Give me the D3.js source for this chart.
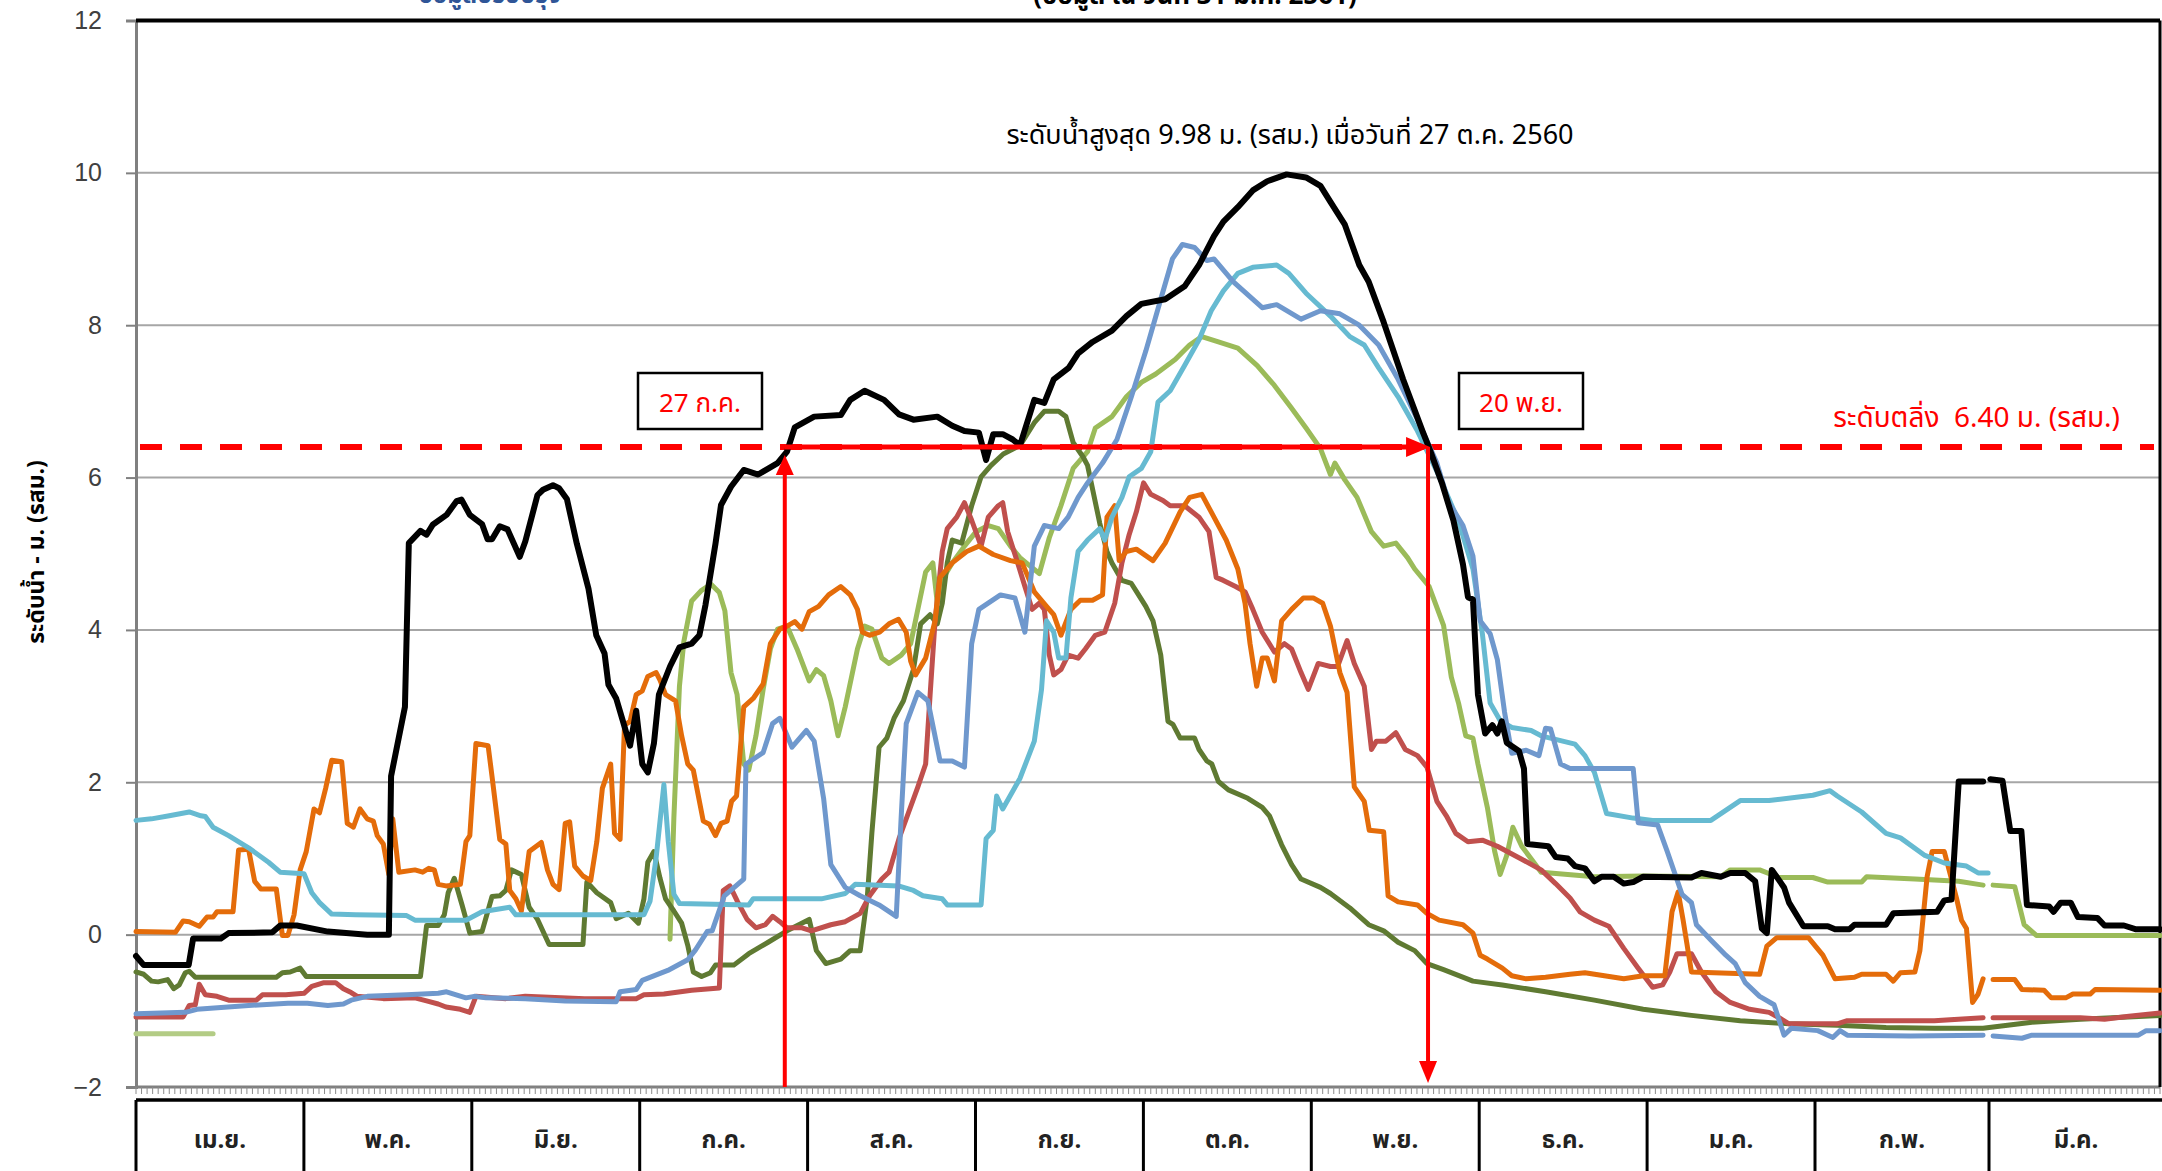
<!DOCTYPE html>
<head>
<meta charset="utf-8">
<title>ระดับน้ำ</title>
<script src="https://d3js.org/d3.v7.min.js"></script>
<style>
  body { margin: 0; background: #fff; }
  svg text { font-family: Tahoma, "Leelawadee UI", "Noto Sans Thai", "Noto Sans", sans-serif; }
</style>
</head>
<body>
<script>

  let width = 2162;
  let height = 1171;
  let margin = {top: 20.5, right: 2, bottom: 84, left: 136};

  // data: [day since 1 Apr 2017, level m. (MSL)]  -- null = missing
  let black2560 = [[0,-0.28],[1.4,-0.40],[9.5,-0.40],[10.3,-0.05],[15.3,-0.05],[16.7,0.02],[24.6,0.03],[26,0.12],[29,0.12],[34.6,0.04],[41.7,0.0],[45.6,0.0],[46,2.08],[48.5,2.99],[49.2,5.14],[51.3,5.30],[52.4,5.25],[53.5,5.38],[56,5.51],[57.8,5.69],[58.7,5.71],[60.2,5.51],[62.4,5.39],[63.4,5.19],[64.2,5.19],[65.6,5.36],[67,5.32],[69.2,4.96],[70.2,5.16],[72.4,5.77],[73.4,5.84],[75.2,5.90],[76.3,5.86],[77.7,5.72],[79.5,5.13],[81.6,4.54],[83,3.93],[84.5,3.69],[85.2,3.28],[86.6,3.10],[87.7,2.83],[89.1,2.48],[90.2,2.94],[91.3,2.24],[92.3,2.13],[93.4,2.51],[94.3,3.15],[96.3,3.52],[98,3.77],[100.2,3.82],[101.6,3.93],[102.7,4.33],[104.5,5.13],[105.5,5.64],[107.3,5.88],[109.6,6.10],[112.2,6.04],[115.7,6.19],[117.4,6.34],[118.8,6.66],[122.3,6.80],[127.1,6.82],[128.8,7.02],[131.4,7.14],[134.9,7.02],[137.6,6.83],[140.2,6.76],[144.5,6.80],[147.2,6.68],[149.4,6.61],[152,6.59],[153.3,6.23],[154.6,6.57],[156.3,6.57],[158.1,6.50],[159.4,6.42],[162,7.02],[163.8,6.98],[165.5,7.29],[168.2,7.44],[169.9,7.63],[172.5,7.78],[176,7.93],[178.6,8.12],[181.3,8.28],[185.6,8.34],[189.1,8.51],[191.7,8.79],[194.4,9.17],[196.1,9.36],[198.7,9.55],[201.4,9.77],[204,9.89],[207.5,9.98],[211,9.94],[213.6,9.83],[215.4,9.62],[218,9.32],[220.6,8.79],[222.3,8.57],[225,8.04],[228.5,7.29],[232,6.61],[233.2,6.39],[235.5,5.93],[237.6,5.43],[239.3,4.86],[240.2,4.43],[241.1,4.40],[242,3.15],[243.3,2.64],[244.6,2.75],[245.5,2.64],[246.3,2.80],[247.2,2.52],[249.4,2.41],[250.3,2.18],[250.9,1.19],[254.7,1.16],[256,1.02],[258.2,1.0],[259.5,0.90],[261.3,0.87],[263,0.70],[264.3,0.76],[266.5,0.76],[268.3,0.67],[270,0.69],[271.8,0.76],[280.5,0.75],[282.3,0.81],[285.8,0.76],[287.5,0.81],[290.2,0.81],[292,0.70],[293.2,0.08],[294.1,0.02],[295,0.85],[297.2,0.62],[298.1,0.42],[300.7,0.11],[305.1,0.11],[306.4,0.07],[309,0.07],[309.9,0.13],[315.6,0.13],[316.9,0.28],[324.8,0.30],[326.1,0.45],[327.4,0.46],[328.7,2.01],[333.1,2.01],[333.8,null],[334.4,2.04],[336.6,2.02],[338,1.36],[340,1.36],[341,0.39],[345,0.37],[345.8,0.30],[347.1,0.42],[348.9,0.42],[350.2,0.23],[353.7,0.22],[355,0.12],[358.5,0.12],[360.7,0.07],[365,0.07]];

  let steelBlue = [[0,-1.04],[8.9,-1.02],[11,-0.98],[20.3,-0.93],[27.4,-0.90],[30.9,-0.90],[34.6,-0.93],[37.4,-0.91],[38.8,-0.86],[41.7,-0.81],[48.8,-0.79],[54.5,-0.77],[56,-0.75],[59.5,-0.83],[61,-0.81],[63.1,-0.83],[70.2,-0.84],[77.4,-0.87],[86.6,-0.88],[87.3,-0.75],[90.2,-0.72],[91.3,-0.60],[95.9,-0.47],[99.5,-0.33],[100.9,-0.20],[103,0.04],[103.9,0.05],[106.1,0.51],[109.6,0.73],[110,2.24],[113.1,2.39],[114.8,2.77],[116.1,2.84],[118.3,2.46],[120.9,2.68],[122.3,2.54],[124,1.79],[125.3,0.92],[127.9,0.62],[130.6,0.51],[134,0.39],[137.1,0.24],[138,1.56],[138.9,2.77],[141,3.18],[142.8,3.07],[145,2.28],[147.2,2.28],[149.4,2.20],[150.7,3.82],[152,4.27],[155.9,4.46],[158.5,4.42],[160.3,3.97],[162,5.10],[163.8,5.37],[166.4,5.33],[168.1,5.48],[169.9,5.74],[171.6,5.93],[174.3,6.19],[176.9,6.50],[179.5,7.06],[182.1,7.66],[184.8,8.34],[186.9,8.87],[188.7,9.06],[190.9,9.02],[193.1,8.85],[194.4,8.87],[197.9,8.57],[203.1,8.23],[205.7,8.27],[210.1,8.08],[213.6,8.19],[217.1,8.15],[220.6,8.00],[224.1,7.74],[227.6,7.29],[231.1,6.76],[234.6,6.19],[236.7,5.68],[239.3,5.37],[241.1,4.97],[242.4,4.12],[244.2,3.95],[245.5,3.61],[246.8,2.92],[248.1,2.38],[250.7,2.42],[253,2.35],[254.2,2.71],[255.1,2.70],[256.9,2.24],[258.6,2.18],[270,2.18],[270.9,1.47],[274.4,1.44],[276.1,1.10],[278.8,0.53],[280.5,0.42],[281.4,0.13],[284,-0.07],[286.7,-0.27],[288.4,-0.38],[290.2,-0.63],[292.8,-0.81],[295.4,-0.92],[296.3,-1.12],[297.2,-1.32],[298.5,-1.23],[303.3,-1.26],[306,-1.35],[307.3,-1.26],[308.6,-1.32],[320,-1.33],[333.1,-1.32],[333.8,null],[334.9,-1.33],[340.1,-1.36],[341.9,-1.32],[361.1,-1.32],[362.5,-1.26],[365,-1.26]];

  let cyan = [[0,1.50],[2.8,1.52],[6,1.56],[9.6,1.61],[11.7,1.56],[12.5,1.55],[13.9,1.41],[16.7,1.30],[20.3,1.14],[23.9,0.95],[26,0.82],[30.3,0.80],[31.7,0.55],[33.1,0.42],[35.3,0.27],[39.6,0.26],[48.8,0.25],[50.3,0.19],[59.5,0.19],[62.4,0.30],[67.4,0.36],[68.5,0.26],[91.6,0.26],[92.7,0.44],[93.8,1.01],[95.2,1.97],[96,1.22],[97,0.53],[98,0.41],[110.5,0.39],[111.3,0.47],[123.6,0.47],[127.9,0.54],[129.7,0.66],[137.5,0.64],[140.2,0.58],[141.9,0.51],[145.4,0.47],[146.3,0.39],[152.4,0.39],[153.3,1.26],[154.6,1.37],[155.2,1.82],[156.3,1.65],[159.4,2.05],[162,2.54],[163.3,3.22],[164.2,4.12],[165.5,3.97],[166.4,3.63],[167.7,3.63],[168.6,4.42],[169.9,5.03],[171.6,5.18],[173.8,5.33],[174.7,5.18],[176,5.48],[177.8,5.74],[179.1,6.01],[181.3,6.12],[183,6.34],[184.3,6.99],[186.5,7.14],[189.1,7.47],[191.7,7.81],[193.9,8.19],[196.1,8.45],[198.7,8.68],[201.4,8.76],[205.7,8.79],[207.9,8.68],[211,8.42],[215.4,8.12],[218.9,7.85],[221.5,7.74],[224.1,7.44],[227.6,7.06],[231.1,6.61],[234.6,6.08],[238.5,5.43],[241.1,4.80],[242.8,3.95],[244.2,3.04],[246,2.81],[248.1,2.72],[251.6,2.68],[253.4,2.61],[259.5,2.50],[261.3,2.35],[263,2.13],[265.2,1.59],[270,1.53],[273.5,1.50],[284,1.50],[289.3,1.76],[294.5,1.76],[302.4,1.83],[305.5,1.89],[306.8,1.82],[311.2,1.61],[315.6,1.33],[318.2,1.27],[322.6,1.04],[326.1,0.94],[330.1,0.90],[332.2,0.81],[334,0.81]];

  let paleGreen = [[0,-1.30],[13.9,-1.30]];

  let lightGreen = [[96.3,-0.06],[97,1.54],[98,3.26],[98.8,3.85],[100.2,4.38],[102,4.52],[103.7,4.60],[105.2,4.49],[106.2,4.25],[107.3,3.44],[108.4,3.15],[109.6,2.24],[110.5,2.16],[111.8,2.61],[113.1,3.22],[114.4,3.75],[115.7,4.01],[117.4,4.05],[119.2,3.75],[121.4,3.33],[122.7,3.48],[124,3.40],[125.3,3.07],[126.6,2.61],[127.9,2.99],[130.1,3.75],[131.4,4.05],[132.7,4.01],[134.5,3.63],[135.8,3.56],[138,3.67],[139.7,3.82],[142.4,4.76],[143.7,4.88],[144.5,4.35],[145.9,4.72],[147.2,4.88],[149.4,5.10],[151.5,5.29],[153.7,5.37],[155.5,5.33],[157.7,5.10],[159.4,4.95],[161.2,4.84],[162.9,4.74],[164.7,5.21],[166.8,5.63],[169,6.12],[171.6,6.34],[173,6.65],[176,6.80],[178.6,7.06],[181.3,7.25],[183.9,7.36],[187.4,7.55],[190,7.74],[192.2,7.85],[195.2,7.78],[198.7,7.70],[202.2,7.47],[205.3,7.21],[208.4,6.91],[211,6.65],[213.6,6.38],[215.4,6.04],[216.2,6.19],[218,5.97],[220.2,5.74],[222.8,5.29],[225,5.10],[227.2,5.14],[229.3,4.95],[230.6,4.80],[233.2,4.57],[235.8,4.06],[237.2,3.38],[238.5,3.04],[239.8,2.61],[241.1,2.58],[242,2.24],[243.7,1.67],[245,1.10],[246,0.79],[247.2,1.04],[248.3,1.41],[249.9,1.16],[253.4,0.82],[263,0.76],[271.8,0.77],[285.8,0.76],[287.5,0.85],[292.8,0.85],[296.3,0.75],[302.4,0.75],[305.1,0.69],[311.2,0.69],[312.1,0.76],[320.8,0.73],[328.7,0.70],[333.1,0.65],[333.8,null],[334.9,0.65],[338.8,0.63],[340.5,0.13],[342.7,-0.01],[365,-0.01]];

  let orange = [[0,0.04],[7.1,0.03],[8.5,0.18],[9.6,0.17],[11.4,0.11],[12.8,0.23],[13.9,0.23],[14.6,0.30],[17.5,0.30],[18.5,1.11],[20.3,1.12],[21.4,0.70],[22.5,0.60],[25.3,0.60],[26.4,-0.01],[27.4,-0.01],[28.5,0.26],[29.6,0.85],[30.7,1.09],[32.1,1.65],[33.1,1.60],[34.2,1.92],[35.3,2.29],[37.1,2.27],[38.1,1.46],[39.2,1.41],[40.4,1.65],[41.7,1.52],[42.8,1.49],[43.5,1.30],[44.6,1.19],[45.6,0.79],[46.3,1.52],[47.4,0.82],[50.3,0.85],[51.7,0.82],[52.8,0.87],[53.8,0.85],[54.5,0.66],[55.9,0.64],[58.5,0.66],[59.5,1.22],[60.2,1.30],[61.3,2.51],[63.5,2.48],[64.2,2.08],[65.6,1.25],[66.7,1.19],[67.4,0.58],[68.5,0.47],[69.5,0.31],[70.9,1.09],[73.1,1.21],[74.2,0.85],[75.2,0.66],[76.3,0.59],[77.4,1.46],[78.2,1.48],[79.1,0.90],[80.6,0.77],[82,0.71],[83.1,1.22],[84.1,1.92],[85.6,2.24],[86.3,1.33],[87.3,1.25],[88.1,2.75],[89.1,2.80],[90.2,3.15],[91.3,3.20],[92.3,3.39],[93.8,3.44],[94.5,3.34],[95.5,3.15],[97.3,3.07],[98.4,2.61],[99.5,2.24],[100.5,2.16],[102.3,1.49],[103.4,1.45],[104.5,1.30],[105.5,1.46],[106.6,1.49],[107.4,1.75],[108.3,1.82],[109.6,2.99],[111.3,3.10],[113.1,3.29],[114.4,3.82],[116.1,4.01],[117.4,4.05],[118.8,4.11],[120.1,4.01],[121.4,4.24],[123.1,4.31],[124.9,4.46],[127.1,4.57],[128.8,4.46],[130.1,4.27],[131,3.97],[132.3,3.93],[134.1,3.97],[135.8,4.08],[137.5,4.14],[138.9,3.97],[139.7,3.59],[140.6,3.41],[142.4,3.63],[144.1,4.12],[145,4.69],[147.2,4.88],[149.8,5.03],[152,5.10],[154.6,4.99],[157.7,4.91],[159.8,4.88],[162,4.50],[164.2,4.31],[165.5,4.20],[166.8,3.93],[168.6,4.27],[170.3,4.39],[172.5,4.39],[174.3,4.46],[175.1,5.48],[176.5,5.63],[177.3,4.91],[178.6,5.03],[180.4,5.06],[183.4,4.91],[185.6,5.14],[188.3,5.55],[190,5.74],[192.2,5.78],[194.4,5.48],[196.6,5.18],[198.7,4.80],[200,4.35],[200.9,3.82],[202.1,3.26],[203.1,3.63],[204,3.63],[205.3,3.33],[206.6,4.12],[208.4,4.27],[210.5,4.42],[212.3,4.42],[214,4.35],[215.4,4.05],[217.1,3.44],[218.4,3.18],[219.7,1.94],[221.5,1.75],[222.4,1.37],[225,1.35],[225.8,0.51],[227.6,0.43],[231.1,0.39],[232.8,0.28],[235,0.19],[239.3,0.13],[241.1,0.02],[242.4,-0.27],[243.7,-0.32],[246.4,-0.44],[248.1,-0.54],[250.7,-0.58],[254.2,-0.56],[258.6,-0.52],[261.3,-0.50],[264.8,-0.54],[268.3,-0.58],[271.8,-0.54],[275.7,-0.54],[277,0.30],[278.1,0.56],[279,0.19],[280.5,-0.49],[292.8,-0.52],[294.1,-0.15],[295.9,-0.04],[301.6,-0.04],[304.2,-0.27],[306.4,-0.58],[309.9,-0.56],[311.2,-0.52],[315.6,-0.52],[316.9,-0.61],[318.2,-0.50],[320.8,-0.49],[321.7,-0.21],[323,0.76],[323.9,1.09],[326.1,1.09],[328.3,0.48],[329.2,0.19],[330.1,0.08],[331.2,-0.89],[332.2,-0.78],[333.1,-0.58],[333.8,null],[334.9,-0.59],[338.8,-0.59],[340.1,-0.72],[344.1,-0.73],[345.4,-0.83],[348,-0.83],[349.3,-0.78],[352.4,-0.78],[353.3,-0.72],[365,-0.73]];

  let red = [[0,-1.08],[8.5,-1.08],[9.6,-0.93],[10.7,-0.92],[11.4,-0.65],[12.5,-0.79],[14.6,-0.81],[16.7,-0.86],[21.7,-0.86],[22.8,-0.79],[27,-0.79],[30.3,-0.77],[31.7,-0.68],[33.9,-0.63],[36,-0.63],[37.4,-0.71],[38.8,-0.76],[39.9,-0.81],[44.6,-0.84],[50.3,-0.83],[52.4,-0.87],[54.5,-0.91],[55.9,-0.95],[58.5,-0.98],[60.2,-1.02],[61.3,-0.81],[66.7,-0.84],[70.2,-0.81],[80.9,-0.84],[90.2,-0.84],[91.6,-0.79],[95.2,-0.78],[100.2,-0.73],[105.2,-0.70],[105.9,0.58],[107.1,0.64],[108.5,0.43],[110.2,0.20],[111.8,0.09],[113.5,0.13],[114.8,0.24],[116.1,0.17],[117.4,0.09],[120.1,0.09],[121.8,0.05],[125.3,0.13],[127.9,0.17],[130.6,0.28],[132.3,0.51],[134.5,0.73],[135.8,0.82],[137.6,1.26],[139.3,1.60],[141,1.94],[142.4,2.24],[143.2,3.14],[144.1,4.12],[145.4,5.03],[146.3,5.33],[148,5.48],[149.4,5.67],[150.7,5.44],[152.4,5.10],[153.7,5.48],[155.5,5.63],[156.3,5.67],[157.2,5.29],[159,4.88],[160.3,4.57],[161.6,4.27],[162.9,4.35],[163.8,4.27],[164.7,3.67],[165.5,3.41],[166.8,3.48],[168.1,3.67],[169.9,3.63],[171.2,3.75],[173,3.93],[174.7,3.97],[176.5,4.35],[177.8,4.88],[179.1,5.25],[180.4,5.55],[181.7,5.93],[183,5.78],[185.2,5.70],[186.5,5.63],[189.1,5.63],[191.7,5.48],[193.5,5.29],[194.8,4.69],[196.1,4.65],[198.3,4.57],[200,4.50],[201.4,4.27],[203.1,3.97],[205.3,3.71],[207.1,3.82],[208.4,3.75],[210.1,3.44],[211.4,3.22],[213.2,3.56],[215.4,3.52],[216.7,3.52],[218.4,3.86],[219.7,3.56],[221.5,3.26],[222.8,2.43],[223.7,2.54],[225.4,2.54],[227.2,2.65],[228.9,2.43],[231.1,2.35],[232.8,2.20],[234.6,1.75],[236.3,1.56],[238,1.33],[240.2,1.22],[242.8,1.24],[245.5,1.16],[249.9,0.99],[253.4,0.85],[256,0.67],[258.6,0.48],[260.4,0.30],[263,0.19],[265.6,0.11],[268.3,-0.18],[270.9,-0.44],[273.5,-0.69],[275.3,-0.66],[276.6,-0.49],[277.9,-0.25],[280.5,-0.25],[282.3,-0.49],[284.9,-0.75],[287.5,-0.89],[291,-0.98],[294.5,-1.02],[296.3,-1.09],[298.1,-1.17],[306.8,-1.17],[308.6,-1.13],[324.3,-1.13],[333.1,-1.09],[333.8,null],[334.9,-1.09],[350.6,-1.09],[355,-1.11],[359.4,-1.07],[365,-1.03]];

  let darkGreen = [[0,-0.49],[1.4,-0.52],[2.8,-0.61],[4,-0.62],[5.7,-0.59],[6.8,-0.71],[7.8,-0.66],[8.9,-0.50],[9.6,-0.48],[10.7,-0.56],[25.3,-0.56],[26.4,-0.50],[27.8,-0.49],[29.6,-0.44],[30.7,-0.55],[51.3,-0.55],[52.4,0.12],[54.5,0.12],[55.6,0.26],[56.3,0.55],[57.4,0.74],[58.8,0.39],[60.2,0.02],[62.4,0.04],[64.2,0.50],[65.6,0.51],[66.7,0.58],[67.7,0.85],[69.5,0.79],[70.9,0.36],[72.4,0.20],[74.5,-0.13],[80.6,-0.13],[81.3,0.69],[83.1,0.55],[85.6,0.42],[86.6,0.21],[88.8,0.28],[90.6,0.15],[91.6,0.47],[92.3,0.95],[93.4,1.09],[94.5,0.74],[95.5,0.47],[97,0.31],[98.4,0.15],[99.5,-0.14],[100.5,-0.49],[102,-0.55],[103.6,-0.50],[104.5,-0.40],[107.8,-0.40],[110.5,-0.25],[114,-0.10],[117.4,0.05],[121.4,0.20],[122.7,-0.21],[124.4,-0.38],[127.1,-0.32],[128.8,-0.21],[130.6,-0.21],[131.9,0.51],[132.7,1.33],[134,2.46],[135.4,2.58],[136.7,2.84],[138.4,3.07],[140.2,3.48],[141.5,4.08],[143.2,4.20],[144.5,4.08],[145.4,4.35],[146.3,4.88],[147.2,5.18],[148.9,5.14],[150.7,5.63],[152.4,6.01],[154.2,6.16],[156.4,6.31],[159.4,6.42],[162,6.72],[163.8,6.87],[166.4,6.87],[167.7,6.80],[169,6.46],[170.8,6.27],[171.6,6.16],[172.5,5.85],[173.8,5.40],[175.1,5.03],[176,4.88],[177.8,4.65],[179.5,4.61],[180.8,4.46],[182.1,4.31],[183.4,4.12],[184.8,3.67],[186.1,2.80],[187,2.76],[188.3,2.58],[190.9,2.58],[191.7,2.43],[193.1,2.28],[194,2.24],[195.2,2.01],[197,1.90],[200.5,1.79],[203.1,1.67],[204.4,1.56],[206.6,1.18],[208.4,0.92],[210.1,0.73],[213.6,0.62],[215.4,0.54],[218.9,0.35],[222.3,0.13],[225,0.05],[227.6,-0.10],[230.6,-0.21],[232.8,-0.38],[235.8,-0.46],[241.1,-0.61],[246.4,-0.66],[254.2,-0.75],[263,-0.86],[271.8,-0.98],[280.5,-1.06],[289.3,-1.13],[298.1,-1.17],[306.8,-1.19],[315.6,-1.22],[324.3,-1.23],[333.1,-1.23],[337.5,-1.19],[341.9,-1.15],[350.6,-1.11],[365,-1.06]];

  let months = ["เม.ย.","พ.ค.","มิ.ย.","ก.ค.","ส.ค.","ก.ย.","ต.ค.","พ.ย.","ธ.ค.","ม.ค.","ก.พ.","มี.ค."];
  let yTicks = [-2,0,2,4,6,8,10,12];
  let bankLevel = 6.40;
  let startDate = new Date(2017, 3, 1);
  let riseDate = new Date(2017, 6, 27);
  let fallDate = new Date(2017, 10, 20);

  let peak_string = "ระดับน้ำสูงสุด 9.98 ม. (รสม.) เมื่อวันที่ 27 ต.ค. 2560";
  let bank_string = "ระดับตลิ่ง  6.40 ม. (รสม.)";
  let ytitle_string = "ระดับน้ำ - ม. (รสม.)";

  let series = [
    {data: paleGreen, color: "#b3cc85", w: 5},
    {data: lightGreen, color: "#9bbb59", w: 5},
    {data: darkGreen, color: "#5f7a32", w: 5},
    {data: red, color: "#c0504d", w: 5},
    {data: orange, color: "#e46c0a", w: 5},
    {data: cyan, color: "#66bad1", w: 5},
    {data: steelBlue, color: "#6f98cd", w: 5},
    {data: black2560, color: "#000000", w: 6}
  ];

  let svg = d3.select("body").append("svg")
      .attr("width", width)
      .attr("height", height);

  let x = d3.scaleLinear().domain([0, 365]).range([margin.left, width - margin.right]);
  let y = d3.scaleLinear().domain([-2, 12]).range([height - margin.bottom, margin.top]);
  let dayOf = function(d) { return d3.timeDay.count(startDate, d); };

  // heading lines, cut by the top edge as in the source image
  svg.append("text")
    .text("ข้อมูลปรับปรุง")
    .attr("x", 490).attr("y", 3)
    .attr("text-anchor", "middle")
    .style("font-size", "24px").style("font-weight", "bold")
    .style("fill", "#2f5597");

  svg.append("text")
    .text("(ข้อมูล ณ วันที่ 31 มี.ค. 2561)")
    .attr("x", 1195).attr("y", 4)
    .attr("text-anchor", "middle")
    .style("font-size", "26px").style("font-weight", "bold")
    .style("fill", "#000");

  // gridlines
  svg.append("g").selectAll("line")
    .data(yTicks.filter(function(d){ return d > -2 && d < 12; }))
    .enter().append("line")
    .attr("x1", margin.left).attr("x2", width - margin.right)
    .attr("y1", function(d){ return y(d); }).attr("y2", function(d){ return y(d); })
    .style("stroke", "#a6a6a6").style("stroke-width", 2);

  // y axis
  let yAxis = d3.axisLeft(y).tickValues(yTicks).tickSize(10).tickPadding(24);
  let gy = svg.append("g").attr("transform", "translate(" + margin.left + ",0)").call(yAxis);
  gy.select(".domain").style("stroke", "#808080").style("stroke-width", 3);
  gy.selectAll(".tick line").style("stroke", "#808080").style("stroke-width", 2);
  gy.selectAll(".tick text")
    .style("font-family", "'Liberation Sans', Arial, sans-serif")
    .style("font-size", "25px").style("fill", "#404040");

  // x axis with daily ticks
  svg.append("line")
    .attr("x1", margin.left).attr("x2", width - margin.right)
    .attr("y1", y(-2)).attr("y2", y(-2))
    .style("stroke", "#808080").style("stroke-width", 3);
  svg.append("g").selectAll("line")
    .data(d3.range(0, 366))
    .enter().append("line")
    .attr("x1", function(d){ return x(d); }).attr("x2", function(d){ return x(d); })
    .attr("y1", y(-2)).attr("y2", y(-2) + 7)
    .style("stroke", "#8c8c8c").style("stroke-width", 1);

  // plot frame top/right
  svg.append("line")
    .attr("x1", margin.left).attr("x2", width - margin.right)
    .attr("y1", y(12)).attr("y2", y(12))
    .style("stroke", "#000").style("stroke-width", 4);
  svg.append("line")
    .attr("x1", width - margin.right).attr("x2", width - margin.right)
    .attr("y1", y(12)).attr("y2", y(-2))
    .style("stroke", "#000").style("stroke-width", 3);

  // y title
  svg.append("text")
    .text(ytitle_string)
    .attr("text-anchor", "middle")
    .attr("transform", "translate(" + 44 + "," + 552 + ") rotate(-90)")
    .style("font-size", "23px").style("font-weight", "bold");

  // threshold dashed line
  svg.append("line")
    .attr("x1", margin.left + 4).attr("x2", width - margin.right - 6)
    .attr("y1", y(bankLevel)).attr("y2", y(bankLevel))
    .style("stroke", "#ff0000").style("stroke-width", 6)
    .style("stroke-dasharray", "22,18");

  // series
  let line = d3.line()
    .defined(function(d){ return d[1] !== null; })
    .x(function(d){ return x(d[0]); })
    .y(function(d){ return y(d[1]); });

  svg.append("g").selectAll("path")
    .data(series)
    .enter().append("path")
    .attr("d", function(d){ return line(d.data); })
    .style("fill", "none")
    .style("stroke", function(d){ return d.color; })
    .style("stroke-width", function(d){ return d.w; })
    .style("stroke-linejoin", "round")
    .style("stroke-linecap", "round");

  // arrows
  let xr = x(dayOf(riseDate));
  let xf = x(dayOf(fallDate));
  let yb = y(bankLevel);
  let arrows = svg.append("g").style("fill", "#ff0000").style("stroke", "#ff0000");

  arrows.append("line")
    .attr("x1", xr).attr("x2", xr).attr("y1", y(-2)).attr("y2", yb + 24)
    .style("stroke-width", 4);
  arrows.append("path")
    .attr("d", "M" + xr + "," + (yb + 8) + "L" + (xr - 9) + "," + (yb + 28) + "L" + (xr + 9) + "," + (yb + 28) + "Z")
    .style("stroke", "none");

  arrows.append("line")
    .attr("x1", xr).attr("x2", xf - 20).attr("y1", yb).attr("y2", yb)
    .style("stroke-width", 5);
  arrows.append("path")
    .attr("d", "M" + (xf + 2) + "," + yb + "L" + (xf - 22) + "," + (yb - 10) + "L" + (xf - 22) + "," + (yb + 10) + "Z")
    .style("stroke", "none");

  arrows.append("line")
    .attr("x1", xf).attr("x2", xf).attr("y1", yb).attr("y2", y(-2) - 22)
    .style("stroke-width", 4);
  arrows.append("path")
    .attr("d", "M" + xf + "," + (y(-2) - 4) + "L" + (xf - 9) + "," + (y(-2) - 26) + "L" + (xf + 9) + "," + (y(-2) - 26) + "Z")
    .style("stroke", "none");

  // date boxes
  let boxes = [{t: "27 ก.ค.", cx: 700}, {t: "20 พ.ย.", cx: 1521}];
  let bg = svg.append("g").selectAll("g").data(boxes).enter().append("g");
  bg.append("rect")
    .attr("x", function(d){ return d.cx - 62; }).attr("y", 373)
    .attr("width", 124).attr("height", 56)
    .style("fill", "#fff").style("stroke", "#000").style("stroke-width", 2.5);
  bg.append("text")
    .text(function(d){ return d.t; })
    .attr("x", function(d){ return d.cx; }).attr("y", 412)
    .attr("text-anchor", "middle")
    .style("font-size", "26px").style("fill", "#ff0000");

  // annotations
  svg.append("text")
    .text(peak_string)
    .attr("x", 1290).attr("y", 144)
    .attr("text-anchor", "middle")
    .style("font-size", "27px").style("fill", "#000");

  svg.append("text")
    .text(bank_string)
    .attr("x", 2120).attr("y", 427)
    .attr("text-anchor", "end")
    .attr("xml:space", "preserve")
    .style("white-space", "pre")
    .style("font-size", "28px").style("fill", "#ff0000");

  // month table
  let tx = d3.scaleLinear().domain([0, 10, 12]).range([margin.left, 1815, 2163]);
  let tableTop = 1100;
  let tg = svg.append("g");
  tg.append("line")
    .attr("x1", margin.left).attr("x2", width)
    .attr("y1", tableTop).attr("y2", tableTop)
    .style("stroke", "#000").style("stroke-width", 3.5);
  tg.selectAll("line.div")
    .data(d3.range(0, 12))
    .enter().append("line")
    .attr("class", "div")
    .attr("x1", function(d){ return tx(d); }).attr("x2", function(d){ return tx(d); })
    .attr("y1", tableTop).attr("y2", height)
    .style("stroke", "#000").style("stroke-width", 3);
  tg.selectAll("text")
    .data(months)
    .enter().append("text")
    .text(function(d){ return d; })
    .attr("x", function(d, i){ return (tx(i) + tx(i + 1)) / 2; })
    .attr("y", 1148)
    .attr("text-anchor", "middle")
    .style("font-size", "24px").style("font-weight", "bold").style("fill", "#222");

</script>
</body>
